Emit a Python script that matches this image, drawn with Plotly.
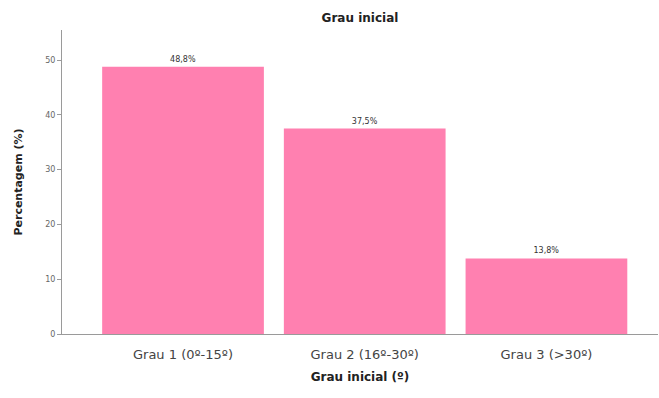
import plotly.graph_objects as go

# Distribuição do grau inicial
categorias = ["Grau 1 (0º-15º)", "Grau 2 (16º-30º)", "Grau 3 (>30º)"]
percentagens = [48.8, 37.5, 13.8]
rotulos = ["48,8%", "37,5%", "13,8%"]
ticks_y = [0, 10, 20, 30, 40, 50]

fig = go.Figure(
    go.Bar(
        x=categorias,
        y=percentagens,
        text=rotulos,
        textposition="outside",
        textfont=dict(size=8, color="#333333", family="DejaVu Sans"),
        cliponaxis=False,
        marker=dict(color="#FF80B0", line=dict(width=0)),
        width=0.89,
    )
)

fig.update_layout(
    width=659,
    height=398,
    margin=dict(l=62, r=1, t=30, b=64),
    paper_bgcolor="white",
    plot_bgcolor="white",
    showlegend=False,
    title=dict(
        text="<b>Grau inicial</b>",
        x=0.5,
        xref="paper",
        y=0.955,
        yanchor="middle",
        font=dict(size=12, color="#222222", family="DejaVu Sans"),
    ),
    font=dict(family="DejaVu Sans"),
)

fig.update_xaxes(
    range=[-0.666, 2.614],
    showline=True,
    linecolor="#9a9a9a",
    linewidth=1,
    ticks="",
    showgrid=False,
    ticklabelstandoff=8,
    tickfont=dict(size=13, color="#444444", family="DejaVu Sans"),
    title=dict(
        text="<b>Grau inicial (º)</b>",
        font=dict(size=12, color="#222222", family="DejaVu Sans"),
        standoff=12,
    ),
)

fig.update_yaxes(
    range=[0, 55.5],
    tickvals=ticks_y,
    showline=True,
    linecolor="#9a9a9a",
    linewidth=1,
    ticks="outside",
    ticklen=4,
    tickcolor="#9a9a9a",
    showgrid=False,
    zeroline=False,
    tickfont=dict(size=8, color="#666666", family="DejaVu Sans"),
    title=dict(
        text="<b>Percentagem (%)</b>",
        font=dict(size=11, color="#222222", family="DejaVu Sans"),
        standoff=20,
    ),
)

fig.write_html("out.html")
